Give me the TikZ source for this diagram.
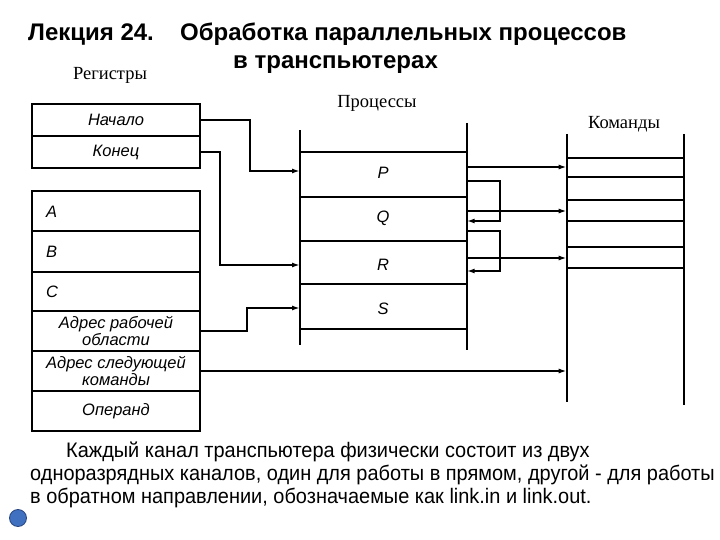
\documentclass[tikz,border=0pt]{standalone}
\usepackage{fontspec}
\setmainfont{Liberation Sans}
\newfontfamily\serifr{Liberation Serif}
\newfontfamily\narrowsans[FakeStretch=0.95]{Liberation Sans}
\usetikzlibrary{arrows.meta}
\definecolor{dotblue}{RGB}{64,112,192}
\definecolor{dotedge}{RGB}{40,70,130}
\begin{document}
\begin{tikzpicture}[x=1pt,y=-1pt,
  reg/.style={draw, line width=1.9pt, minimum width=168pt, inner sep=0pt, align=center, font=\fontsize{16.5}{16.5}\selectfont\itshape},
  lbl/.style={inner sep=0pt, font=\fontsize{16.5}{18}\selectfont\itshape},
  hdr/.style={inner sep=0pt, font=\serifr\fontsize{18.5}{20}\selectfont},
  ttl/.style={anchor=base west, inner sep=0pt, font=\bfseries\fontsize{24}{28}\selectfont},
  body/.style={anchor=base west, inner sep=0pt, font=\narrowsans\fontsize{21}{23}\selectfont},
  conn/.style={line width=2.4pt, -{Latex[length=8pt,width=5pt]}},
  loopc/.style={line width=2.2pt, -{Latex[length=8pt,width=5pt]}},
  vline/.style={line width=1.8pt},
  pline/.style={line width=2pt},
  cline/.style={line width=1.6pt}]
\useasboundingbox (0,0) rectangle (720,540);

% title
\node[ttl] (t1) at (28,41) {Лекция 24.};
\node[ttl] (t2) at (180,41) {Обработка параллельных процессов};
\node[ttl] (t3) at (233,69) {в транспьютерах};

% headers
\node[hdr] (hreg) at (110,75) {Регистры};
\node[hdr] (hproc) at (377,103) {Процессы};
\node[hdr] (hcmd) at (624,124) {Команды};

% registers group 1
\node[reg, minimum height=32pt] (nach) at (116,120) {Начало};
\node[reg, minimum height=32pt] (kon) at (116,152) {Конец};
\draw[line width=2.6pt] (32,104) rectangle (200,168);

% registers group 2
\node[reg, minimum height=40pt] (ra) at (116,211) {};
\node[reg, minimum height=41pt] (rb) at (116,251.5) {};
\node[reg, minimum height=39pt] (rc) at (116,291.5) {};
\node[reg, minimum height=40pt] (adrr) at (116,331) {Адрес рабочей\\области};
\node[reg, minimum height=40pt] (adrs) at (116,371) {Адрес следующей\\команды};
\node[reg, minimum height=40pt] (oper) at (116,411) {Операнд};
\draw[line width=2.6pt] (32,191) rectangle (200,431);
\node[lbl, anchor=west] (la) at (46,212) {A};
\node[lbl, anchor=west] (lb) at (46,252) {B};
\node[lbl, anchor=west] (lc) at (46,292) {C};

% processes
\draw[vline] (300,130) -- (300,345);
\draw[vline] (466.7,123) -- (466.7,350);
\foreach \yy in {152,197,241,284,329} \draw[pline] (300,\yy) -- (466.7,\yy);
\node[lbl] (P) at (383,173) {P};
\node[lbl] (Q) at (383,218) {Q};
\node[lbl] (R) at (383,265) {R};
\node[lbl] (S) at (383,309) {S};

% commands
\draw[vline] (566.7,134) -- (566.7,402);
\draw[vline] (684,134) -- (684,405);
\foreach \yy in {158,177,221,247,268} \draw[cline] (566.7,\yy) -- (684,\yy);
\draw[line width=2.3pt] (566.7,200) -- (684,200);

% coordinates
\coordinate (pin1) at (300,171);
\coordinate (pin2) at (300,265);
\coordinate (pin3) at (300,308);
\coordinate (cin1) at (566.7,167);
\coordinate (cin2) at (566.7,211);
\coordinate (cin3) at (566.7,258);
\coordinate (cin4) at (566.7,371);
\coordinate (pout1) at (466.7,167);
\coordinate (pout2) at (466.7,211);
\coordinate (pout3) at (466.7,258);
\coordinate (l1a) at (466.7,181);
\coordinate (l1b) at (466.7,221);
\coordinate (l2a) at (466.7,231);
\coordinate (l2b) at (466.7,271);

% connectors left
\draw[conn] (nach.east) -| (250,171) -- (pin1);
\draw[conn] (kon.east) -| (220,265) -- (pin2);
\draw[conn] (adrr.east) -| (247,308) -- (pin3);
\draw[conn] (adrs.east) -- (cin4);

% connectors right
\draw[conn] (pout1) -- (cin1);
\draw[conn] (pout2) -- (cin2);
\draw[conn] (pout3) -- (cin3);
\draw[loopc] (l1a) -- ++(33,0) |- (l1b);
\draw[loopc] (l2a) -- ++(33,0) |- (l2b);

% body text
\node[body] (b1) at (66,457) {Каждый канал транспьютера физически состоит из двух};
\node[body] (b2) at (30,480) {одноразрядных каналов, один для работы в прямом, другой - для работы};
\node[body] (b3) at (30,503) {в обратном направлении, обозначаемые как link.in и link.out.};

% dot
\node[circle, fill=dotblue, draw=dotedge, line width=0.8pt, minimum size=17pt, inner sep=0pt] (dot) at (18,518) {};
\end{tikzpicture}
\end{document}
